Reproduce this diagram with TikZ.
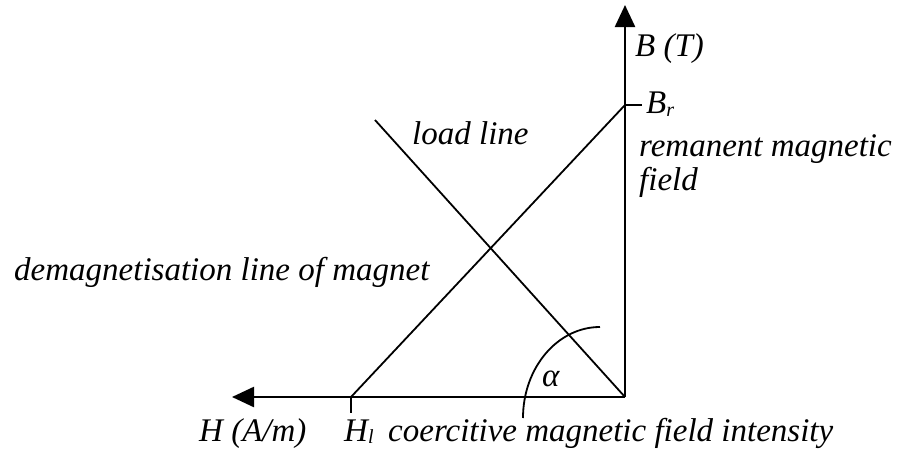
\documentclass[tikz,border=0pt]{standalone}
\usepackage{fontspec}
\setmainfont{Liberation Serif}
\usetikzlibrary{arrows.meta}
\begin{document}
\begin{tikzpicture}[x=1pt,y=-1pt,
  lbl/.style={inner sep=0pt,anchor=base west,font=\fontsize{33}{37}\selectfont\itshape},
  axis/.style={line width=2.4pt,-{Triangle[length=22pt,width=20pt]}},
  thin/.style={line width=1.8pt}]
\useasboundingbox (0,0) rectangle (911,450);
\coordinate (O) at (625,397);
\coordinate (Btop) at (625,5);
\coordinate (Hleft) at (232,397);
\coordinate (Br) at (625,105);
\coordinate (Brt) at (642,105);
\coordinate (Hl) at (351,397);
\coordinate (Hlt) at (351,413);
\coordinate (L) at (375,120);
\coordinate (A1) at (523,418);
\coordinate (A2) at (600,327);
\draw[axis] (O) -- (Btop);
\draw[axis] (O) -- (Hleft);
\draw[thin] (Br) -- (Brt);
\draw[thin] (Hl) -- (Hlt);
\draw[thin] (Hl) -- (Br);
\draw[thin] (L) -- (O);
\draw[thin] (A1) arc[start angle=180,end angle=90,x radius=77,y radius=-91];
\node[lbl] (bt) at (635,56) {B (T)};
\node[lbl] (br) at (646,113) {B\raisebox{-3pt}{\fontsize{20}{22}\selectfont r}};
\node[lbl] (ll) at (412,144) {load line};
\node[lbl] (rm) at (639,156) {remanent magnetic};
\node[lbl] (fd) at (639,190) {field};
\node[lbl] (dm) at (14,280) {demagnetisation line of magnet};
\node[lbl] (al) at (542,386) {α};
\node[lbl] (ha) at (199,441) {H (A/m)};
\node[lbl] (hl) at (344,441) {H\raisebox{-2pt}{\fontsize{20}{22}\selectfont l}};
\node[lbl] (co) at (388,441) {coercitive magnetic field intensity};
\end{tikzpicture}
\end{document}
